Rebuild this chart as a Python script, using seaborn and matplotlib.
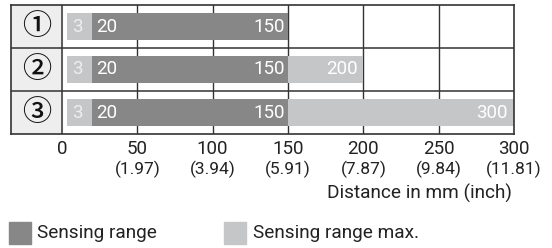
import pandas as pd
import matplotlib.pyplot as plt
import seaborn as sns
from matplotlib.patches import Rectangle

# data
rows = ["①", "②", "③"]
near_start = [3, 3, 3]
range_start = [20, 20, 20]
range_end = [150, 150, 150]
max_end = [150, 200, 300]
ticks_mm = [0, 50, 100, 150, 200, 250, 300]
ticks_inch = ["", "(1.97)", "(3.94)", "(5.91)", "(7.87)", "(9.84)", "(11.81)"]

dark = "#878787"
light = "#c5c6c7"
line_c = "#333333"
text_c = "#222222"

df = pd.DataFrame({
    "row": rows,
    "near_start": near_start,
    "range_start": range_start,
    "range_end": range_end,
    "max_end": max_end,
})
df["near_w"] = df["range_start"] - df["near_start"]
df["range_w"] = df["range_end"] - df["range_start"]
df["far_w"] = df["max_end"] - df["range_end"]

sns.set_style("white")
plt.rcParams["font.family"] = ["Roboto", "DejaVu Sans", "Noto Sans CJK JP"]

W, H = 552, 248
fig = plt.figure(figsize=(W / 100, H / 100), dpi=100)
ax = fig.add_axes([11 / W, (H - 134) / H, (514 - 11) / W, 129 / H])

bar_h = 0.63
sns.barplot(data=df, x="near_w", y="row", order=rows, orient="y", left=df["near_start"].values,
            color=light, width=bar_h, saturation=1, ax=ax, zorder=2, linewidth=0)
sns.barplot(data=df, x="range_w", y="row", order=rows, orient="y", left=df["range_start"].values,
            color=dark, width=bar_h, saturation=1, ax=ax, zorder=2, linewidth=0)
sns.barplot(data=df, x="far_w", y="row", order=rows, orient="y", left=df["range_end"].values,
            color=light, width=bar_h, saturation=1, ax=ax, zorder=2, linewidth=0)

x_left = -51 * 150 / 226
ax.set_xlim(x_left, 300)
ax.set_ylim(2.5, -0.5)

# left label column
ax.axvspan(x_left, 0, color="#eeeeee", zorder=0)
for i, r in enumerate(rows):
    ax.text(x_left / 2, i, r, ha="center", va="center", fontsize=21, color="#111111",
            family=["Noto Sans CJK JP", "DejaVu Sans"], fontweight="medium")

# grid
for t in ticks_mm[1:-1]:
    ax.axvline(t, color=line_c, lw=1, zorder=1)
ax.axvline(0, color=line_c, lw=1.1, zorder=3)
for y in [0.5, 1.5]:
    ax.axhline(y, color=line_c, lw=1.1, zorder=3)
for s in ax.spines.values():
    s.set_visible(True)
    s.set_color(line_c)
    s.set_linewidth(1.2)

# bar labels
fs_bar = 13.5
for i in range(len(rows)):
    ax.text(near_start[i] + 3.5, i, str(near_start[i]), ha="left", va="center",
            color="#eeeeee", fontsize=fs_bar, zorder=4)
    ax.text(range_start[i] + 2.5, i, str(range_start[i]), ha="left", va="center",
            color="white", fontsize=fs_bar, zorder=4)
    ax.text(range_end[i] - 2, i, str(range_end[i]), ha="right", va="center",
            color="white", fontsize=fs_bar, zorder=4)
    if max_end[i] > range_end[i]:
        ax.text(max_end[i] - 4, i, str(max_end[i]), ha="right", va="center",
                color="white", fontsize=fs_bar, zorder=4)

ax.set_xlabel("")
ax.set_ylabel("")
ax.set_yticks([])
ax.set_xticks(ticks_mm, labels=[str(t) for t in ticks_mm])
ax.tick_params(axis="x", length=0, pad=4, labelsize=13.5, labelcolor=text_c)
for t, lab in zip(ticks_mm, ticks_inch):
    ax.text(t, -0.205, lab, transform=ax.get_xaxis_transform(), ha="center", va="top",
            fontsize=12.5, color=text_c)

fig.text(512 / W, 1 - 193 / H, "Distance in mm (inch)", ha="right", va="center",
         fontsize=13.7, color=text_c)

# legend
fig.patches.append(Rectangle((9 / W, (H - 244) / H), 22 / W, 22 / H, transform=fig.transFigure,
                             color=dark, figure=fig))
fig.text(37 / W, 1 - 233 / H, "Sensing range", ha="left", va="center", fontsize=13.7,
         color=text_c)
fig.patches.append(Rectangle((224 / W, (H - 244) / H), 22 / W, 22 / H, transform=fig.transFigure,
                             color=light, figure=fig))
fig.text(253 / W, 1 - 233 / H, "Sensing range max.", ha="left", va="center", fontsize=13.7,
         color=text_c)

fig.savefig("out.png", dpi=100)
